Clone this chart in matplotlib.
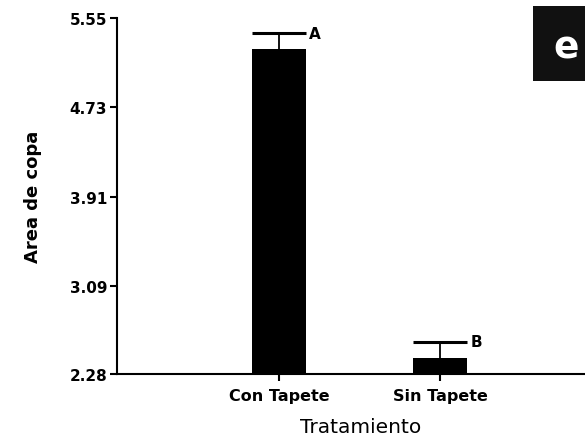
import matplotlib.pyplot as plt
import matplotlib.patches as mpatches
import numpy as np

plt.rcParams['font.family'] = ['DejaVu Sans']

# Data
categories = ['Con Tapete', 'Sin Tapete']
means = [5.265, 2.427]
errors = [0.145, 0.15]
letters = ['A', 'B']
yticks = [2.28, 3.09, 3.91, 4.73, 5.55]

fig = plt.figure(figsize=(5.85, 4.39), dpi=100)
ax = fig.add_axes([0.2, 0.1458, 0.8, 0.8109])

x = np.arange(len(categories))
width = 0.335
means = np.array(means)
errors = np.array(errors)
ax.bar(x, means - yticks[0], width, bottom=yticks[0], color='black')
# upper error bars only
ax.vlines(x, means, means + errors, color='black', lw=1.3)
ax.hlines(means + errors, x - width / 2, x + width / 2, color='black', lw=2.2)

for xi, m, e, lab in zip(x, means, errors, letters):
    ax.text(xi + width / 2 + 0.02, m + e, lab, fontsize=11, fontweight='bold',
            va='center', ha='left')

ax.set_xlim(-1.006, 1.9)
ax.set_ylim(yticks[0], yticks[-1])
ax.set_yticks(yticks)
ax.set_yticklabels([f'{t:.2f}' for t in yticks], fontsize=11, fontweight='bold')
ax.set_xticks(x)
ax.set_xticklabels(categories, fontsize=11.5, fontweight='bold')

for side in ['top', 'right']:
    ax.spines[side].set_visible(False)
for side in ['left', 'bottom']:
    ax.spines[side].set_linewidth(1.5)
ax.tick_params(axis='y', width=1.5, length=5, pad=2)
ax.tick_params(axis='x', width=1.5, length=5, pad=5)

ax.set_ylabel('Area de copa', fontsize=13, fontweight='bold', labelpad=20)
ax.set_xlabel('Tratamiento', fontsize=14.5)
ax.xaxis.set_label_coords(0.52, -0.12)

# panel label box
fig.add_artist(mpatches.Rectangle((0.911, 0.813), 0.089, 0.171,
                                  transform=fig.transFigure,
                                  facecolor='#111111', edgecolor='none'))
fig.text(0.967, 0.89, 'e', fontsize=27, fontweight='bold', color='white',
         ha='center', va='center')

fig.savefig('out.png', dpi=100)
